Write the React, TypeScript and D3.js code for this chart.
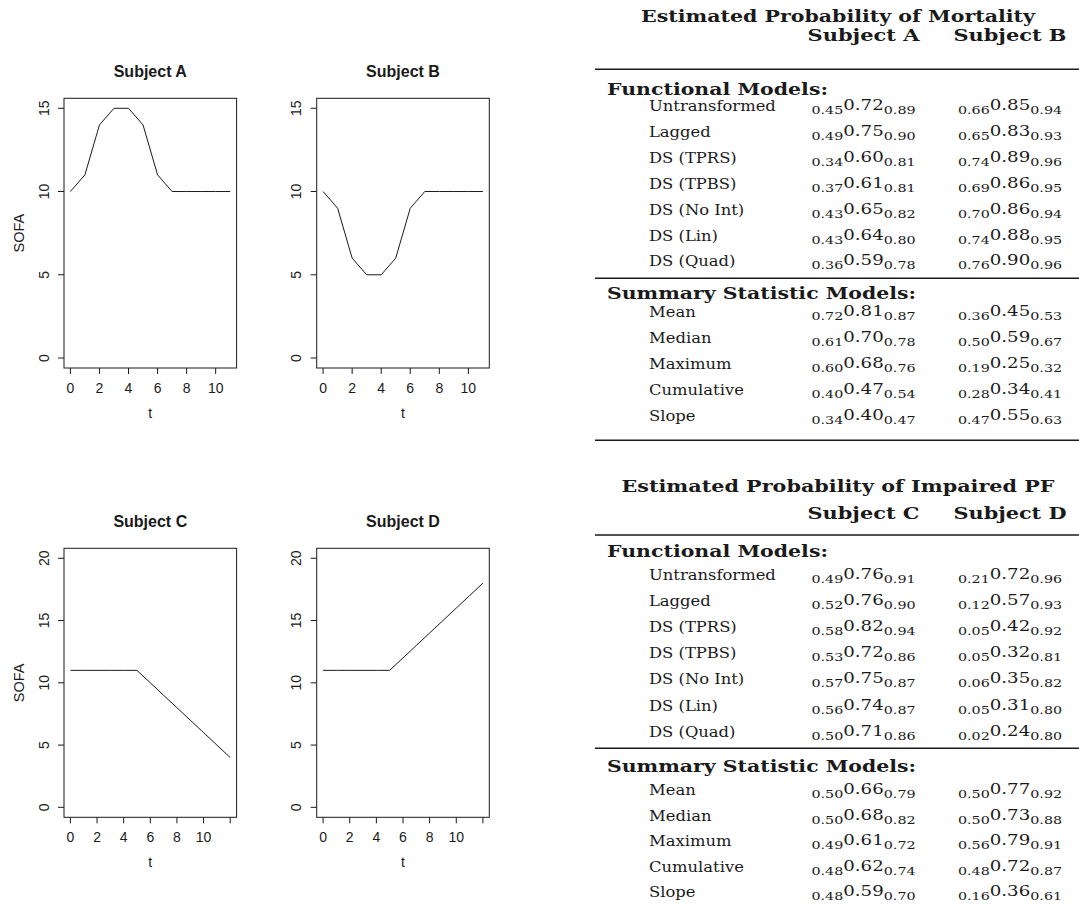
import React from "react";
import * as d3 from "d3";

// ---- Trajectory data ----
const timeAB = [0, 1, 2, 3, 4, 5, 6, 7, 8, 9, 10, 11];
const sofaA = [10, 11, 14, 15, 15, 14, 11, 10, 10, 10, 10, 10];
const sofaB = [10, 9, 6, 5, 5, 6, 9, 10, 10, 10, 10, 10];
const timeCD = [0, 1, 2, 3, 4, 5, 6, 7, 8, 9, 10, 11, 12];
const sofaC = [11, 11, 11, 11, 11, 11, 10, 9, 8, 7, 6, 5, 4];
const sofaD = [11, 11, 11, 11, 11, 11, 12, 13, 14, 15, 16, 17, 18];

const xTicksAB = [0, 2, 4, 6, 8, 10];
const xTicksCD = [0, 2, 4, 6, 8, 10, 12];
const xTickLabelsCD = ["0", "2", "4", "6", "8", "10", ""];
const yTicksAB = [0, 5, 10, 15];
const yTicksCD = [0, 5, 10, 15, 20];

// ---- Table data ----
const functionalModels = ["Untransformed", "Lagged", "DS (TPRS)", "DS (TPBS)", "DS (No Int)", "DS (Lin)", "DS (Quad)"];
const summaryModels = ["Mean", "Median", "Maximum", "Cumulative", "Slope"];

const mortFuncA = [[0.45, 0.72, 0.89], [0.49, 0.75, 0.90], [0.34, 0.60, 0.81], [0.37, 0.61, 0.81], [0.43, 0.65, 0.82], [0.43, 0.64, 0.80], [0.36, 0.59, 0.78]];
const mortFuncB = [[0.66, 0.85, 0.94], [0.65, 0.83, 0.93], [0.74, 0.89, 0.96], [0.69, 0.86, 0.95], [0.70, 0.86, 0.94], [0.74, 0.88, 0.95], [0.76, 0.90, 0.96]];
const mortSumA = [[0.72, 0.81, 0.87], [0.61, 0.70, 0.78], [0.60, 0.68, 0.76], [0.40, 0.47, 0.54], [0.34, 0.40, 0.47]];
const mortSumB = [[0.36, 0.45, 0.53], [0.50, 0.59, 0.67], [0.19, 0.25, 0.32], [0.28, 0.34, 0.41], [0.47, 0.55, 0.63]];

const pfFuncC = [[0.49, 0.76, 0.91], [0.52, 0.76, 0.90], [0.58, 0.82, 0.94], [0.53, 0.72, 0.86], [0.57, 0.75, 0.87], [0.56, 0.74, 0.87], [0.50, 0.71, 0.86]];
const pfFuncD = [[0.21, 0.72, 0.96], [0.12, 0.57, 0.93], [0.05, 0.42, 0.92], [0.05, 0.32, 0.81], [0.06, 0.35, 0.82], [0.05, 0.31, 0.80], [0.02, 0.24, 0.80]];
const pfSumC = [[0.50, 0.66, 0.79], [0.50, 0.68, 0.82], [0.49, 0.61, 0.72], [0.48, 0.62, 0.74], [0.48, 0.59, 0.70]];
const pfSumD = [[0.50, 0.77, 0.92], [0.50, 0.73, 0.88], [0.56, 0.79, 0.91], [0.48, 0.72, 0.87], [0.16, 0.36, 0.61]];

const SANS = "'Liberation Sans', Arial, Helvetica, sans-serif";
const SERIF = "'DejaVu Serif', serif";
const INK = "#1a1a1a";

type PanelProps = {
  title: string;
  left: number; right: number; top: number; bottom: number;
  xs: number[]; ys: number[];
  xMax: number; yMax: number;
  xTicks: number[]; xLabels: string[]; yTicks: number[];
  showYLabel: boolean;
};

function Panel(p: PanelProps) {
  const padX = p.xMax * 0.04;
  const padY = p.yMax * 0.04;
  const x = d3.scaleLinear().domain([-padX, p.xMax + padX]).range([p.left, p.right]);
  const y = d3.scaleLinear().domain([-padY, p.yMax + padY]).range([p.bottom, p.top]);
  const line = d3.line<number>().x((_, i) => x(p.xs[i])).y((d) => y(d));
  const cx = (p.left + p.right) / 2;
  const cy = (p.top + p.bottom) / 2;
  return (
    <g>
      <text x={cx} y={p.top - 21} textAnchor="middle" fontFamily={SANS} fontWeight="bold" fontSize={16} fill={INK}>{p.title}</text>
      <rect x={p.left} y={p.top} width={p.right - p.left} height={p.bottom - p.top} fill="none" stroke={INK} strokeWidth={1} />
      <path d={line(p.ys) || ""} fill="none" stroke={INK} strokeWidth={1} />
      {p.xTicks.map((t, i) => (
        <g key={"x" + i}>
          <line x1={x(t)} x2={x(t)} y1={p.bottom} y2={p.bottom + 6} stroke={INK} strokeWidth={1} />
          <text x={x(t)} y={p.bottom + 25} textAnchor="middle" fontFamily={SANS} fontSize={14} fill={INK}>{p.xLabels[i]}</text>
        </g>
      ))}
      {p.yTicks.map((t, i) => (
        <g key={"y" + i}>
          <line x1={p.left - 6} x2={p.left} y1={y(t)} y2={y(t)} stroke={INK} strokeWidth={1} />
          <text transform={`translate(${p.left - 15.5},${y(t)}) rotate(-90)`} textAnchor="middle" fontFamily={SANS} fontSize={14} fill={INK}>{String(t)}</text>
        </g>
      ))}
      <text x={cx} y={p.bottom + 49.5} textAnchor="middle" fontFamily={SANS} fontSize={14} fill={INK}>t</text>
      {p.showYLabel && (
        <text transform={`translate(${p.left - 40.5},${cy}) rotate(-90)`} textAnchor="middle" fontFamily={SANS} fontSize={14.5} fill={INK}>SOFA</text>
      )}
    </g>
  );
}

const VAL_SX = 1.3;
const LAB_SX = 1.17;

function Val({ cx, y, v }: { cx: number; y: number; v: number[] }) {
  return (
    <g transform={`translate(${cx},${y}) scale(${VAL_SX},1)`}>
      <text textAnchor="middle" fontFamily={SERIF} fill={INK}>
        <tspan fontSize={11} dy={3}>{v[0].toFixed(2)}</tspan>
        <tspan fontSize={14} dy={-4}>{v[1].toFixed(2)}</tspan>
        <tspan fontSize={11} dy={4}>{v[2].toFixed(2)}</tspan>
      </text>
    </g>
  );
}

function Label({ x, y, s }: { x: number; y: number; s: string }) {
  return (
    <g transform={`translate(${x},${y}) scale(${LAB_SX},1)`}>
      <text fontFamily={SERIF} fontSize={14} fill={INK}>{s}</text>
    </g>
  );
}

function Bold({ x, y, s, w, anchor, size = 17 }: { x: number; y: number; s: string; w: number; anchor: "start" | "middle"; size?: number }) {
  return (
    <text x={x} y={y} textAnchor={anchor} fontFamily={SERIF} fontWeight="bold" fontSize={size} fill={INK}
      textLength={w} lengthAdjust="spacingAndGlyphs">{s}</text>
  );
}

type TableProps = {
  title: string; titleW: number;
  subj1: string; subj2: string;
  titleY: number; subjY: number; rule1: number; funcY: number; funcRow0: number; funcStep: number;
  rule2: number; sumY: number; sumRow0: number; sumStep: number; rule3?: number;
  f1: number[][]; f2: number[][]; s1: number[][]; s2: number[][];
};

const COL1 = 863.5;
const COL2 = 1010;
const RULE_X1 = 595;
const RULE_X2 = 1079;
const SEC_X = 607;
const LAB_X = 649;

function Table(t: TableProps) {
  return (
    <g>
      <Bold x={838} y={t.titleY} s={t.title} w={t.titleW} anchor="middle" />
      <Bold x={COL1} y={t.subjY} s={t.subj1} w={112} anchor="middle" />
      <Bold x={COL2} y={t.subjY} s={t.subj2} w={113} anchor="middle" />
      <line x1={RULE_X1} x2={RULE_X2} y1={t.rule1} y2={t.rule1} stroke={INK} strokeWidth={1.5} />
      <Bold x={SEC_X} y={t.funcY} s="Functional Models:" w={221} anchor="start" size={16.5} />
      {functionalModels.map((m, i) => {
        const y = t.funcRow0 + i * t.funcStep;
        return (
          <g key={m}>
            <Label x={LAB_X} y={y} s={m} />
            <Val cx={COL1} y={y} v={t.f1[i]} />
            <Val cx={COL2} y={y} v={t.f2[i]} />
          </g>
        );
      })}
      <line x1={RULE_X1} x2={RULE_X2} y1={t.rule2} y2={t.rule2} stroke={INK} strokeWidth={1.5} />
      <Bold x={SEC_X} y={t.sumY} s="Summary Statistic Models:" w={309} anchor="start" size={16.5} />
      {summaryModels.map((m, i) => {
        const y = t.sumRow0 + i * t.sumStep;
        return (
          <g key={m}>
            <Label x={LAB_X} y={y} s={m} />
            <Val cx={COL1} y={y} v={t.s1[i]} />
            <Val cx={COL2} y={y} v={t.s2[i]} />
          </g>
        );
      })}
      {t.rule3 !== undefined && (
        <line x1={RULE_X1} x2={RULE_X2} y1={t.rule3} y2={t.rule3} stroke={INK} strokeWidth={1.5} />
      )}
    </g>
  );
}

export default function App() {
  return (
    <svg width={1079} height={909} style={{ position: "absolute", left: 0, top: 0, background: "#fff" }}>
      <rect width={1079} height={909} fill="#fff" />
      <Panel title="Subject A" left={64} right={236.6} top={98.3} bottom={368} xs={timeAB} ys={sofaA}
        xMax={11} yMax={15} xTicks={xTicksAB} xLabels={xTicksAB.map(String)} yTicks={yTicksAB} showYLabel={true} />
      <Panel title="Subject B" left={316.7} right={489.3} top={98.3} bottom={368} xs={timeAB} ys={sofaB}
        xMax={11} yMax={15} xTicks={xTicksAB} xLabels={xTicksAB.map(String)} yTicks={yTicksAB} showYLabel={false} />
      <Panel title="Subject C" left={64} right={236.6} top={548.3} bottom={817.3} xs={timeCD} ys={sofaC}
        xMax={12} yMax={20} xTicks={xTicksCD} xLabels={xTickLabelsCD} yTicks={yTicksCD} showYLabel={true} />
      <Panel title="Subject D" left={316.7} right={489.3} top={548.3} bottom={817.3} xs={timeCD} ys={sofaD}
        xMax={12} yMax={20} xTicks={xTicksCD} xLabels={xTickLabelsCD} yTicks={yTicksCD} showYLabel={false} />

      <Table title="Estimated Probability of Mortality" titleW={394} subj1="Subject A" subj2="Subject B"
        titleY={21.7} subjY={41} rule1={69.3} funcY={94.7} funcRow0={111} funcStep={25.9}
        rule2={278.3} sumY={299} sumRow0={317} sumStep={26} rule3={440.3}
        f1={mortFuncA} f2={mortFuncB} s1={mortSumA} s2={mortSumB} />
      <Table title="Estimated Probability of Impaired PF" titleW={433} subj1="Subject C" subj2="Subject D"
        titleY={491.7} subjY={519.3} rule1={535} funcY={557.3} funcRow0={579.5} funcStep={26.2}
        rule2={748.3} sumY={771.7} sumRow0={795} sumStep={25.6}
        f1={pfFuncC} f2={pfFuncD} s1={pfSumC} s2={pfSumD} />
    </svg>
  );
}
